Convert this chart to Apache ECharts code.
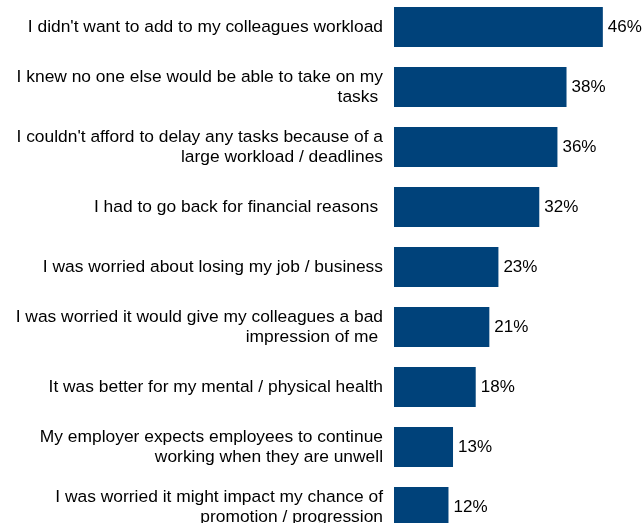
<!DOCTYPE html>
<html>
<head>
<meta charset="utf-8">
<style>
  html, body { margin: 0; padding: 0; background: #ffffff; }
  #chart { width: 644px; height: 523px; }
</style>
<script src="https://cdn.jsdelivr.net/npm/echarts@6/dist/echarts.min.js"></script>
</head>
<body>
<div id="chart"></div>
<script>
// Reasons for returning to work while unwell (share of respondents, %)
const reasons = [
  "I didn't want to add to my colleagues workload",
  "I knew no one else would be able to take on my\ntasks ",
  "I couldn't afford to delay any tasks because of a\nlarge workload / deadlines",
  "I had to go back for financial reasons ",
  "I was worried about losing my job / business",
  "I was worried it would give my colleagues a bad\nimpression of me ",
  "It was better for my mental / physical health",
  "My employer expects employees to continue\nworking when they are unwell",
  "I was worried it might impact my chance of\npromotion / progression"
];
const shares = [46, 38, 36, 32, 23, 21, 18, 13, 12];

const chart = echarts.init(document.getElementById('chart'), null, { renderer: 'canvas' });

chart.setOption({
  animation: false,
  backgroundColor: '#ffffff',
  grid: {
    left: 394, top: -3, bottom: -14, width: 227,
    containLabel: false,
    outerBoundsMode: 'none'
  },
  xAxis: {
    type: 'value',
    min: 0,
    max: 50,
    show: false
  },
  yAxis: {
    type: 'category',
    data: reasons,
    inverse: true,
    axisLine: { show: false },
    axisTick: { show: false },
    splitLine: { show: false },
    axisLabel: {
      margin: 11,
      color: '#000000',
      fontFamily: 'Liberation Sans, Arial, sans-serif',
      fontSize: 17.4,
      lineHeight: 20,
      align: 'right'
    }
  },
  series: [{
    type: 'bar',
    data: shares,
    barWidth: 40,
    itemStyle: { color: '#00427a' },
    label: {
      show: true,
      position: 'right',
      distance: 5,
      formatter: p => p.value + '%',
      color: '#000000',
      fontFamily: 'Liberation Sans, Arial, sans-serif',
      fontSize: 17
    }
  }]
});
</script>
</body>
</html>
